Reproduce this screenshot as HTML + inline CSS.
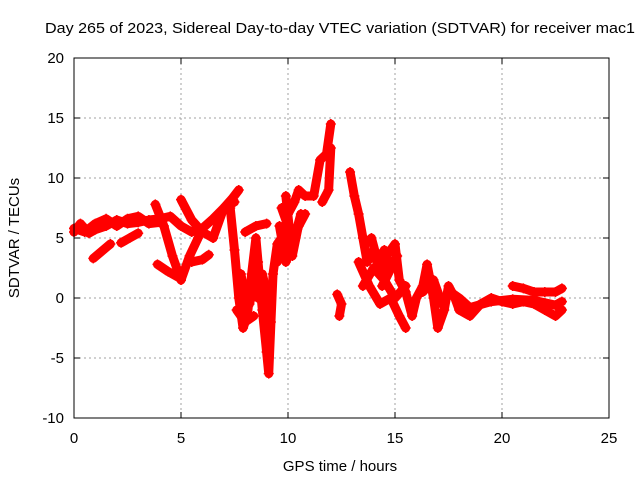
<!DOCTYPE html>
<html><head><meta charset="utf-8"><style>
body{margin:0;background:#fff;}
svg text{font-family:"Liberation Sans",sans-serif;font-size:15px;fill:#000;}
</style></head><body>
<svg id="chart" width="640" height="480">
<text x="340" y="33" text-anchor="middle" textLength="590" lengthAdjust="spacingAndGlyphs">Day 265 of 2023, Sidereal Day-to-day VTEC variation (SDTVAR) for receiver mac1</text>
<text x="340" y="471" text-anchor="middle">GPS time / hours</text>
<text transform="translate(19,238) rotate(-90)" text-anchor="middle">SDTVAR / TECUs</text>
<g id="grid"></g><g id="ticks"></g><g id="marks"></g>
<rect x="74" y="58" width="535" height="360" fill="none" stroke="#000" stroke-width="1"/>
</svg>
<script>
const xTicks=[0,5,10,15,20,25];
const yTicks=[-10,-5,0,5,10,15,20];
const trackA=[[0,5.5],[0.3,6.2],[0.7,5.4],[1,5.7],[1.5,6],[2,6.5],[2.5,6.2],[3,6.3],[3.5,6.5],[4,6.6],[4.5,6.8],[5,6],[5.5,5.5],[6,5.8],[6.5,6.6],[7,7.5],[7.4,8.3],[7.7,9]];
const trackA2=[[0,5.8],[0.5,5.5],[1,6.2],[1.5,6.6],[2,6],[2.5,6.6],[3,6.8],[3.5,6.2],[4,6.3]];
const trackB=[[0.9,3.3],[1.5,4.2],[1.7,4.5]];
const trackB2=[[2.2,4.6],[2.6,5],[3,5.4]];
const trackC=[[3.8,7.8],[4.2,6],[4.6,3.5],[5,1.5]];
const trackD=[[3.9,2.8],[4.4,2.2],[4.9,1.7]];
const trackE=[[5,8.2],[5.5,6.5],[6,5.5],[6.5,5]];
const trackE2=[[5,1.5],[5.4,3.5],[5.8,5]];
const trackF=[[5.5,3],[6,3.2],[6.3,3.6]];
const trackG=[[6.5,5],[7,7.5],[7.5,8]];
const trackH=[[7.3,7.5],[7.5,4],[7.7,0],[7.9,-2.5],[8.1,-1.5],[8.3,2],[8.5,5],[8.6,3],[8.8,-1],[9,-4.5],[9.1,-6.3],[9.3,2],[9.5,4.5],[9.7,5]];
const trackH2=[[8,5.5],[8.5,6],[9,6.2]];
const trackH3=[[7.6,-1],[8,-2],[8.4,-1.5]];
const trackH4=[[7.8,2],[8,0],[8.2,-0.5],[8.4,1],[8.6,0],[8.8,2],[9,0.5],[9.2,-2]];
const trackI=[[9.5,3],[9.8,5],[10,7],[10.3,8],[10.5,9],[10.8,8.5],[11.2,8.5],[11.5,11.5],[11.8,12],[12,14.5]];
const trackI2=[[9.6,6],[9.9,3],[10.2,4.5],[10.5,6],[10.8,7]];
const trackI3=[[11.6,8],[11.9,9],[12,12.5]];
const trackI4=[[9.7,7.5],[10,6],[10.3,5],[10.6,7],[10.2,3.5],[9.9,8.5]];
const trackJ=[[12.3,0.3],[12.5,-0.5],[12.4,-1.5]];
const trackK=[[12.9,10.5],[13.1,8.5],[13.3,7],[13.5,5],[13.7,3],[14,4],[14.3,2],[14.6,3.5],[15,4.5],[15.2,1.5],[15.5,0.5],[15.8,-1.5],[16,0],[16.3,1],[16.5,2.8],[16.8,0],[17,-2.5],[17.3,-1],[17.5,1],[17.8,0],[18,-1],[18.5,-1.5],[19,-0.5],[19.5,0],[20,-0.3],[20.5,-0.5],[21,-0.3],[21.5,-0.5],[22,-1],[22.5,-1.5],[22.8,-1]];
const trackK2=[[13.6,4.5],[13.9,5],[14.2,3],[14.5,4],[14.8,2.5],[15.1,3.5],[14.4,1]];
const trackK3=[[16.3,0.5],[16.8,1.5],[17.2,-0.5],[17.6,0.5],[18,0],[18.5,-0.8],[19.5,-0.3],[20.5,-0.1],[21.5,-0.2],[22.5,-0.6],[22.8,-0.3]];
const trackL=[[20.5,1],[21,0.8],[21.5,0.5],[22,0.5],[22.5,0.5],[22.8,0.8]];
const trackM=[[13.3,3],[13.8,1],[14.3,-0.5],[14.8,0],[15.2,-1.5],[15.5,-2.5]];
const trackM2=[[13.5,1],[14,2.5],[14.5,1.5],[15,0],[15.5,1]];
const tracks=[trackA,trackA2,trackB,trackB2,trackC,trackD,trackE,trackE2,trackF,trackG,trackH,trackH2,trackH3,trackH4,trackI,trackI2,trackI3,trackI4,trackJ,trackK,trackK2,trackK3,trackL,trackM,trackM2];
const NS='http://www.w3.org/2000/svg';
const xs=h=>74+h*535/25, ys=v=>298-v*12;
const grid=document.getElementById('grid'),ticks=document.getElementById('ticks'),marks=document.getElementById('marks');
function mk(tag,attrs,parent){const e=document.createElementNS(NS,tag);for(const k in attrs)e.setAttribute(k,attrs[k]);parent.appendChild(e);return e;}
xTicks.forEach(t=>{const x=xs(t);
 if(t>0&&t<25){const g=mk('line',{x1:x,x2:x,y1:58,y2:418,stroke:'#a0a0a0','stroke-dasharray':'2,3'},grid);}
 const l=mk('text',{x:x,y:443,'text-anchor':'middle'},ticks);l.textContent=t;
 
 
 mk('line',{x1:x,x2:x,y1:418,y2:412,stroke:'#000'},ticks);mk('line',{x1:x,x2:x,y1:58,y2:64,stroke:'#000'},ticks);});
yTicks.forEach(t=>{const y=ys(t);
 if(t>-10&&t<20){const g=mk('line',{x1:74,x2:609,y1:y,y2:y,stroke:'#a0a0a0','stroke-dasharray':'2,3'},grid);}
 const l=mk('text',{x:64,y:y+5,'text-anchor':'end'},ticks);l.textContent=t;
 
 
 mk('line',{x1:74,x2:80,y1:y,y2:y,stroke:'#000'},ticks);mk('line',{x1:609,x2:603,y1:y,y2:y,stroke:'#000'},ticks);});
tracks.forEach(tr=>{
 const p=mk('polyline',{points:tr.map(d=>xs(d[0])+','+ys(d[1])).join(' '),fill:'none',stroke:'#f00','stroke-width':9,'stroke-linejoin':'round','stroke-linecap':'round'},marks);
 
 
 tr.forEach(d=>{const x=xs(d[0]),y=ys(d[1]);
  const m=mk('path',{d:`M${x-5},${y}h10M${x},${y-5}v10`,stroke:'#f00','stroke-width':1.5},marks);
  
  });
});
</script>
</body></html>
